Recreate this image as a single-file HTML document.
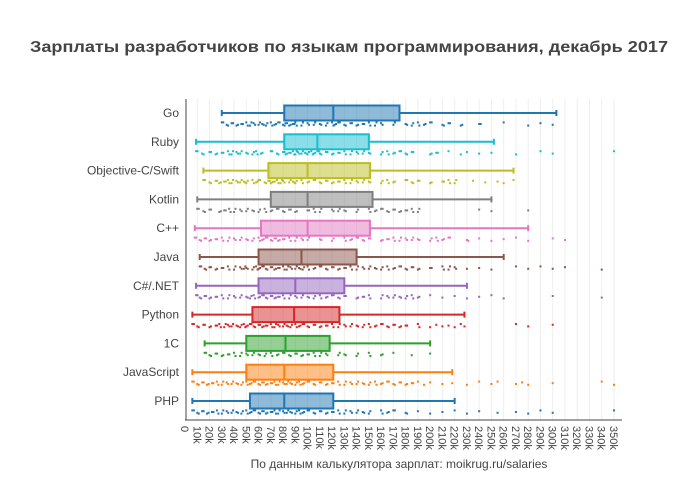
<!DOCTYPE html>
<html><head><meta charset="utf-8"><style>
body{margin:0;background:#fff;}
svg{display:block;font-family:"Liberation Sans","DejaVu Sans",sans-serif;}
</style></head><body>
<svg id="chart" width="700" height="500" viewBox="0 0 700 500">
<text x="349" y="52" text-anchor="middle" font-size="16" font-weight="bold" fill="#444" textLength="638" lengthAdjust="spacingAndGlyphs">Зарплаты разработчиков по языкам программирования, декабрь 2017</text>
<text x="399" y="468" text-anchor="middle" font-size="12" fill="#444">По данным калькулятора зарплат: moikrug.ru/salaries</text>
<g id="grid"></g>
<g id="marks"></g>
<g id="axes"></g>
</svg>
<script>
const languages = ["Go","Ruby","Objective-C/Swift","Kotlin","C++","Java","C#/.NET","Python","1C","JavaScript","PHP"];
const colors = ["#1f77b4","#17becf","#bcbd22","#7f7f7f","#e377c2","#8c564b","#9467bd","#d62728","#2ca02c","#ff7f0e","#1f77b4"];
const lowWhisker = [30,9,15,10,8,12,9,6,16,6,6];
const q1 = [81,81,68,70,62,60,60,55,50,50,53];
const median = [121,108,100,100,100,95,90,89,82,81,81];
const q3 = [175,150,151,153,151,140,130,126,118,121,121];
const highWhisker = [303,252,268,250,280,260,230,228,200,218,220];
const tickValues = [0,10,20,30,40,50,60,70,80,90,100,110,120,130,140,150,160,170,180,190,200,210,220,230,240,250,260,270,280,290,300,310,320,330,340,350];
const tickLabels = tickValues.map(v => v === 0 ? "0" : v + "k");
const ptsGo = [30,34,38,42,46,50,53,56,60,63,66,70,73,76,80,82,85,88,90,95,100,105,110,115,120,122,125,130,135,140,145,150,155,160,170,180,185,190,195,200,210,215,225,240,260,280,290,300];
const ptsRuby = [9,14,20,25,30,35,38,42,45,50,55,58,62,70,75,80,82,85,88,90,92,95,98,100,103,105,108,110,115,120,125,130,135,140,145,150,160,165,170,175,180,185,200,205,215,225,230,240,250,270,290,300,350];
const ptsObjc = [15,20,25,28,32,35,38,42,45,48,50,55,58,60,65,68,70,72,75,78,80,85,88,90,95,100,105,110,115,120,125,130,135,140,145,150,160,165,170,180,185,190,200,210,215,220,235,245,255,260,268];
const ptsKotlin = [10,15,20,28,32,36,40,45,50,55,60,65,70,75,80,85,90,100,105,110,120,125,130,140,150,155,160,165,170,175,180,185,190,240,250,280];
const ptsCpp = [8,12,16,20,25,30,35,40,45,50,55,60,63,66,70,73,76,80,85,90,95,100,110,120,130,135,140,145,150,160,165,170,175,180,185,190,200,205,210,215,230,240,250,260,270,280,300,310];
const ptsJava = [12,16,20,25,30,35,40,45,48,50,55,58,60,63,66,70,73,76,80,83,86,90,93,96,100,105,110,115,120,125,130,135,140,145,150,155,160,165,170,175,180,185,190,200,210,215,220,230,240,250,270,280,290,300,310,340];
const ptsCs = [9,12,16,20,25,30,35,40,45,50,53,56,60,63,66,70,73,76,80,85,90,95,100,105,110,115,120,125,130,140,145,150,160,165,170,175,180,185,190,200,210,220,230,240,250,260,300,340];
const ptsPy = [6,10,15,20,25,28,32,35,38,42,45,48,50,53,56,60,63,66,70,73,76,80,83,86,90,93,96,100,105,110,115,120,125,130,135,140,145,150,155,160,165,170,175,180,190,200,205,210,215,220,225,228,270,280,300];
const ptsOneC = [16,20,25,30,35,40,45,50,55,60,65,70,75,80,85,90,95,100,105,110,115,125,130,140,150,160,170,185,200];
const ptsJs = [6,10,14,18,22,26,30,34,38,42,46,50,53,56,60,63,66,70,73,76,80,83,86,90,93,96,100,105,110,115,120,125,130,135,140,145,150,155,160,165,170,175,180,185,190,195,200,210,218,230,240,250,255,270,275,280,300,340,350];
const ptsPhp = [6,10,14,18,22,26,30,34,38,42,46,50,53,56,60,63,66,70,73,76,80,83,86,90,93,96,100,105,110,115,120,125,130,135,140,145,150,160,165,170,180,190,200,210,220,230,240,255,270,280,290,300,350];
const points = [ptsGo,ptsRuby,ptsObjc,ptsKotlin,ptsCpp,ptsJava,ptsCs,ptsPy,ptsOneC,ptsJs,ptsPhp];

const NS = "http://www.w3.org/2000/svg";
const X0 = 185, X1 = 614, XMAX = 350, TOP = 99, BOTTOM = 420;
const xScale = v => X0 + v * (X1 - X0) / XMAX;
const yScale = i => 113 + 28.8 * i;
function mk(tag, attrs, parent){const e=document.createElementNS(NS,tag);for(const k in attrs)e.setAttribute(k,attrs[k]);parent.appendChild(e);return e;}
const grid=document.getElementById("grid"), marks=document.getElementById("marks"), axes=document.getElementById("axes");

tickValues.forEach((v,i)=>{
  const x=xScale(v);
  if(v>0){const g=mk("line",{x1:x,x2:x,y1:TOP,y2:BOTTOM,stroke:"#eee","stroke-width":1},grid);
  
  }
  const t=mk("text",{x:0,y:0,"font-size":11,fill:"#444",transform:`translate(${x-4},${BOTTOM+6}) rotate(90)`},axes);
  t.textContent=tickLabels[i];
  
  
});
const ax=mk("line",{x1:X0+1,x2:X0+1,y1:TOP,y2:BOTTOM,stroke:"#444","stroke-width":1},axes);


const bx=mk("line",{x1:X0,x2:X1+8,y1:BOTTOM,y2:BOTTOM,stroke:"#444","stroke-width":1},axes);



const jitter=[-2,1,-1,2,0,-2,2,-1,1,0,2,-2,1];
languages.forEach((lang,i)=>{
  const by=yScale(i), c=colors[i], h=15;
  const g=mk("g",{},marks);
  
  
  const lbl=mk("text",{x:179,y:by+4,"text-anchor":"end","font-size":12,fill:"#444"},axes);
  lbl.textContent=lang;
  
  
  mk("line",{x1:xScale(lowWhisker[i]),x2:xScale(q1[i]),y1:by,y2:by,stroke:c,"stroke-width":2},g);
  mk("line",{x1:xScale(q3[i]),x2:xScale(highWhisker[i]),y1:by,y2:by,stroke:c,"stroke-width":2},g);
  mk("line",{x1:xScale(lowWhisker[i]),x2:xScale(lowWhisker[i]),y1:by-3,y2:by+3,stroke:c,"stroke-width":2},g);
  mk("line",{x1:xScale(highWhisker[i]),x2:xScale(highWhisker[i]),y1:by-3,y2:by+3,stroke:c,"stroke-width":2},g);
  mk("rect",{x:xScale(q1[i]),y:by-h/2,width:xScale(q3[i])-xScale(q1[i]),height:h,fill:c,"fill-opacity":0.5,stroke:c,"stroke-width":2},g);
  mk("line",{x1:xScale(median[i]),x2:xScale(median[i]),y1:by-h/2,y2:by+h/2,stroke:c,"stroke-width":2},g);
  points[i].forEach((v,j)=>{
    const p=mk("rect",{x:xScale(v)-1,y:by+10+jitter[j%jitter.length]*0.8,width:2,height:2,fill:c},g);
    
    
    if(v<highWhisker[i]*0.85){
      const p2=mk("rect",{x:xScale(v)+0.5,y:by+10+jitter[(j+5)%jitter.length]*0.8,width:2,height:2,fill:c},g);
      
      
    }
  });
});
</script>
</body></html>
